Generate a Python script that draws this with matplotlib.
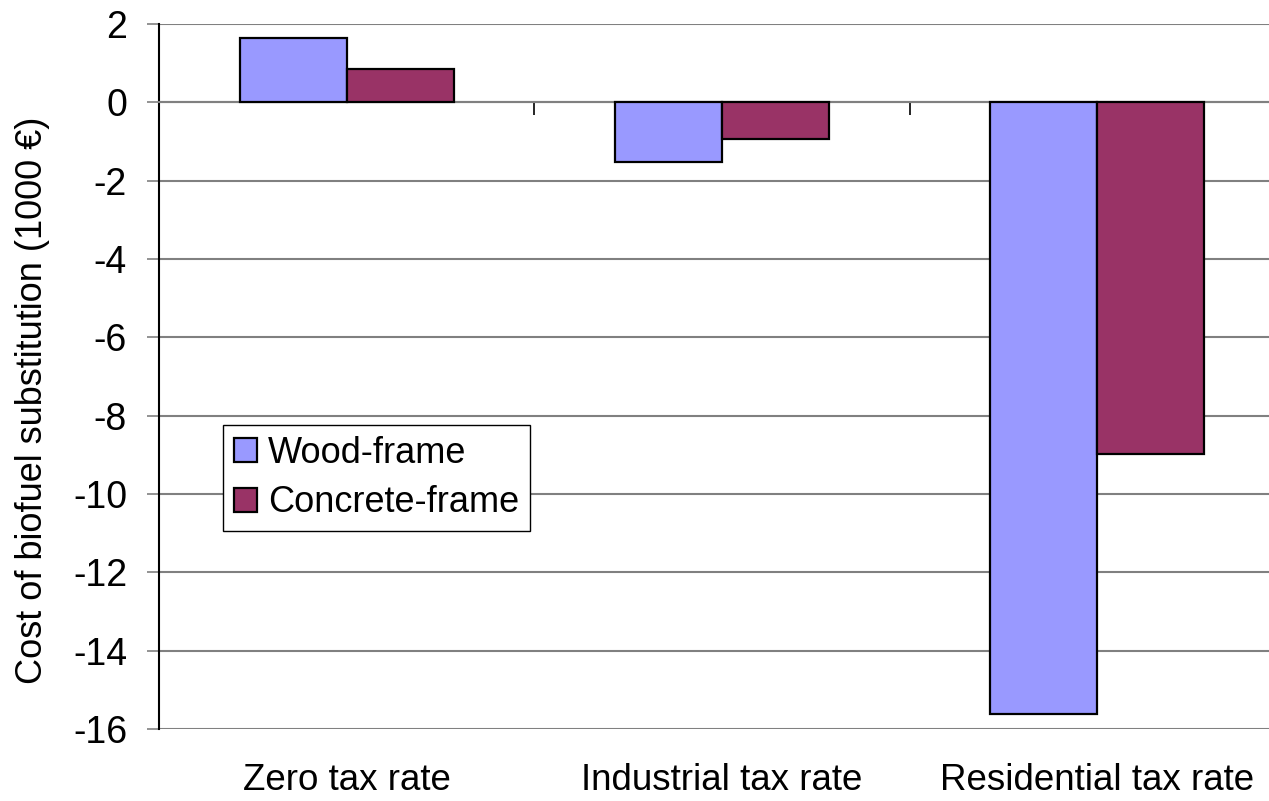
import numpy as np
import matplotlib
matplotlib.use("Agg")
import matplotlib.pyplot as plt
from matplotlib.transforms import blended_transform_factory

# data (1000 EUR)
kategori = ["Zero tax rate", "Industrial tax rate", "Residential tax rate"]
kayu = [1.63, -1.53, -15.62]
beton = [0.86, -0.93, -8.99]
label_seri = ["Wood-frame", "Concrete-frame"]
warna = ["#9999FF", "#993366"]

plt.rcParams['font.family'] = ['Liberation Sans', 'DejaVu Sans']
plt.rcParams['axes.unicode_minus'] = False

fig = plt.figure(figsize=(12.69, 8.01), dpi=100)
ax = fig.add_axes([159 / 1269, 1 - 729 / 801, 1126 / 1269, 705 / 801])

x = np.arange(len(kategori))
lebar = 0.285
ax.bar(x - lebar / 2, kayu, lebar, color=warna[0], edgecolor='black',
       linewidth=1.6, label=label_seri[0], zorder=3)
ax.bar(x + lebar / 2, beton, lebar, color=warna[1], edgecolor='black',
       linewidth=1.6, label=label_seri[1], zorder=3)

ax.set_xlim(-0.5, len(kategori) - 0.5)
ax.set_ylim(-16, 2)
ax.set_yticks(np.arange(-16, 3, 2))
ax.yaxis.grid(True, color='#808080', linewidth=1.5, zorder=0)
ax.tick_params(axis='y', direction='out', length=9, width=1.2, color='#808080',
               pad=14, labelsize=27)

# garis nol dengan tanda batas kategori
for s in ['top', 'right']:
    ax.spines[s].set_visible(False)
ax.spines['bottom'].set_position(('data', 0))
ax.spines['bottom'].set_color('#808080')
ax.spines['bottom'].set_linewidth(1.5)
ax.spines['left'].set_linewidth(1.5)
ax.set_xticks([])
ax.set_xticks(np.arange(0.5, len(kategori) - 0.5, 1), minor=True)
ax.tick_params(axis='x', which='minor', direction='out', length=9, width=1.2,
               color='black')

trans = blended_transform_factory(ax.transData, fig.transFigure)
for i, k in enumerate(kategori):
    ax.text(i, 1 - 780 / 801, k, transform=trans, ha='center', va='center',
            fontsize=26.5)

ax.set_ylabel("Cost of biofuel substitution (1000 €)", fontsize=26)
ax.yaxis.set_label_coords(50 / 1269, 0.5, transform=fig.transFigure)

leg = ax.legend(loc='upper left', bbox_to_anchor=(223 / 1269, 1 - 425 / 801),
                bbox_transform=fig.transFigure, borderaxespad=0, fontsize=26,
                fancybox=False, edgecolor='black', framealpha=1,
                handlelength=0.65, handleheight=0.65, handletextpad=0.3,
                labelspacing=0.4, borderpad=0.3)
leg.get_frame().set_linewidth(1.0)

fig.savefig("out.png", dpi=100)
